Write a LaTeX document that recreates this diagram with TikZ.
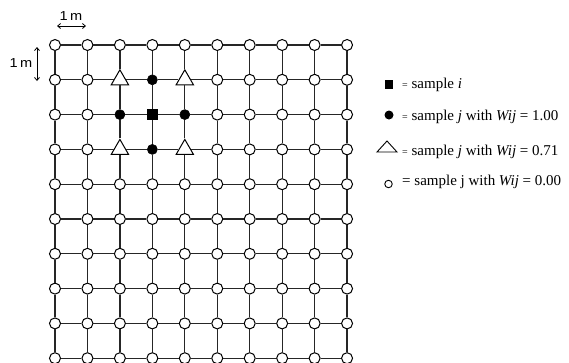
\documentclass[tikz,border=0pt]{standalone}
\usepackage{fontspec}
\setmainfont{Liberation Serif}
\newfontfamily\lsans{Liberation Sans}
\usetikzlibrary{shapes.geometric,arrows.meta,calc}
\tikzset{
  gpt/.style={circle,draw=black,fill=white,line width=1pt,minimum size=11pt,inner sep=0pt},
  dotn/.style={circle,draw=black,fill=black,line width=0.6pt,minimum size=10pt,inner sep=0pt},
  sqn/.style={rectangle,draw=black,fill=black,line width=0.6pt,minimum size=10pt,inner sep=0pt},
  trin/.style={regular polygon,regular polygon sides=3,draw=black,fill=white,line width=1pt,minimum size=20pt,inner sep=0pt},
  gline/.style={line width=1.2pt,draw=black!85},
  s-1-3/.style={dotn}, s-2-2/.style={dotn}, s-2-4/.style={dotn}, s-3-3/.style={dotn},
  s-2-3/.style={sqn},
  s-1-2/.style={trin}, s-1-4/.style={trin}, s-3-2/.style={trin}, s-3-4/.style={trin},
  legtxt/.style={anchor=base west,inner sep=0pt,font=\fontsize{15}{17}\selectfont},
  scalelab/.style={inner sep=0pt,font=\lsans\fontsize{13}{15}\selectfont},
  scalearr/.style={line width=0.8pt,{Straight Barb[length=3pt,width=5pt]}-{Straight Barb[length=3pt,width=5pt]}}
}
\newcommand{\smeq}{\raisebox{-0.5pt}{\fontsize{10}{10}\selectfont =}}
\begin{document}
\begin{tikzpicture}[x=1pt,y=-1pt]
\useasboundingbox (0,0) rectangle (569,362);
% grid nodes
\foreach \r in {0,...,9}{
  \foreach \c in {0,...,9}{
    \pgfmathsetmacro\gx{55+32.45*\c}
    \pgfmathsetmacro\gy{45+34.8*\r}
    \edef\tmp{\noexpand\node[gpt,s-\r-\c/.try] (g-\r-\c) at (\gx,\gy) {};}
    \tmp
  }
}
% grid connectors
\foreach \r in {0,...,9}{
  \foreach \c [evaluate=\c as \n using int(\c+1)] in {0,...,8}{
    \draw[gline] (g-\r-\c) -- (g-\r-\n);
    \draw[gline] (g-\c-\r) -- (g-\n-\r);
  }
}
% scale indicators
\node[scalelab] (h1m) at (71,16) {\scalebox{1.12}[1]{1\,m}};
\coordinate (ha) at (57,26);
\coordinate (hb) at (86,26);
\draw[scalearr] (ha) -- (hb);
\node[scalelab] (v1m) at (21,63) {\scalebox{1.12}[1]{1\,m}};
\coordinate (va) at (37,47);
\coordinate (vb) at (37,81);
\draw[scalearr] (va) -- (vb);
% legend
\node[rectangle,fill=black,minimum size=8.5pt,inner sep=0pt] (lsq) at (389,84.5) {};
\node[circle,fill=black,minimum size=9pt,inner sep=0pt] (ldot) at (389,115) {};
\coordinate (ltri) at (387,147);
\draw[fill=white,line width=0.9pt] ($(ltri)+(-10,5)$) -- ($(ltri)+(10,5)$) -- ($(ltri)+(0,-6)$) -- cycle;
\node[circle,draw=black,fill=white,line width=0.9pt,minimum size=7.5pt,inner sep=0pt] (lcir) at (388.5,184) {};
\node[legtxt] (leg1) at (402,88) {\smeq\ sample \textit{i}};
\node[legtxt] (leg2) at (402,120) {\smeq\ sample \textit{j} with \textit{Wij} = 1.00};
\node[legtxt] (leg3) at (402,155) {\smeq\ sample \textit{j} with \textit{Wij} = 0.71};
\node[legtxt] (leg4) at (402,185) {= sample j with \textit{Wij} = 0.00};
\end{tikzpicture}
\end{document}
